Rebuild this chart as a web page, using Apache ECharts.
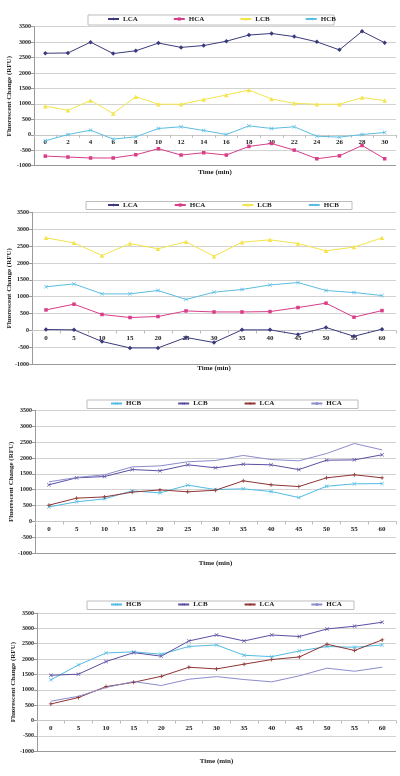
<!DOCTYPE html>
<html>
<head>
<meta charset="utf-8">
<script src="https://cdn.jsdelivr.net/npm/echarts@6/dist/echarts.min.js"></script>
<style>
html,body{margin:0;padding:0;background:#fff;}
#c{width:400px;height:776px;}
</style>
</head>
<body>
<div id="c"></div>
<script>
// ---------- data ----------
const timeCats30 = ['0','2','4','6','8','10','12','14','16','18','20','22','24','26','28','30'];
const timeCats60 = ['0','5','10','15','20','25','30','35','40','45','50','55','60'];

// Panel 1
const p1LCA = [2640, 2650, 3000, 2630, 2720, 2970, 2830, 2890, 3030, 3230, 3280, 3180, 3010, 2750, 3350, 2980];
const p1HCA = [-690, -720, -750, -750, -645, -450, -655, -580, -655, -375, -280, -495, -775, -680, -345, -775];
const p1LCB = [925, 795, 1110, 690, 1235, 990, 990, 1140, 1290, 1450, 1160, 1020, 990, 990, 1205, 1110];
const p1HCB = [-195, 10, 150, -140, -65, 205, 260, 140, 10, 290, 205, 260, -45, -75, 10, 75];

// Panel 2
const p2LCA = [30, 20, -325, -515, -515, -205, -355, 20, 20, -120, 90, -170, 40];
const p2HCA = [610, 780, 475, 385, 415, 580, 550, 550, 560, 680, 810, 395, 590];
const p2LCB = [2745, 2595, 2220, 2575, 2420, 2625, 2200, 2615, 2685, 2575, 2360, 2470, 2745];
const p2HCB = [1295, 1380, 1085, 1085, 1185, 920, 1135, 1215, 1350, 1420, 1185, 1125, 1035];

// Panel 3
const p3HCB = [460, 620, 715, 965, 900, 1145, 1005, 1030, 945, 755, 1110, 1185, 1195];
const p3LCB = [1155, 1375, 1415, 1635, 1595, 1785, 1690, 1805, 1785, 1635, 1930, 1940, 2100];
const p3LCA = [515, 735, 775, 925, 995, 935, 985, 1280, 1155, 1100, 1375, 1470, 1375];
const p3HCA = [1250, 1385, 1470, 1720, 1750, 1880, 1920, 2080, 1950, 1910, 2140, 2455, 2255];

// Panel 4
const p4HCB = [1325, 1810, 2200, 2235, 2160, 2410, 2460, 2125, 2080, 2265, 2410, 2385, 2460];
const p4LCB = [1475, 1510, 1920, 2210, 2095, 2590, 2785, 2590, 2785, 2735, 2980, 3070, 3200];
const p4LCA = [540, 750, 1105, 1245, 1440, 1735, 1680, 1835, 1985, 2070, 2485, 2280, 2625];
const p4HCA = [630, 790, 1075, 1270, 1140, 1345, 1430, 1335, 1260, 1455, 1705, 1605, 1735];

const yMin = -1000, yMax = 3500, yStep = 500;
const yTitle = 'Fluorescent Change (RFU)';
const xTitle = 'Time (min)';
const legend12 = ['LCA', 'HCA', 'LCB', 'HCB'];
const legend34 = ['HCB', 'LCB', 'LCA', 'HCA'];

// ---------- styles ----------
const FONT = '"Liberation Serif", "Times New Roman", serif';
const SYM = {
  diamond: 'diamond',
  square: 'rect',
  triangle: 'triangle',
  cross: 'path://M0,1L1,0L5,4L9,0L10,1L6,5L10,9L9,10L5,6L1,10L0,9L4,5Z',
  plus: 'path://M4,0H6V4H10V6H6V10H4V6H0V4H4Z',
  none: 'none'
};
const STY = {
  p12: {
    LCA: {c: '#3b3b7c', s: 'diamond', z: 4.5},
    HCA: {c: '#d83d88', s: 'square', z: 3.5},
    LCB: {c: '#f3e44c', s: 'triangle', z: 4.5},
    HCB: {c: '#5bbde1', s: 'cross', z: 4}
  },
  p34: {
    HCB: {c: '#52bbe3', s: 'cross', z: 4},
    LCB: {c: '#5a4fa2', s: 'cross', z: 4},
    LCA: {c: '#8e3535', s: 'plus', z: 4},
    HCA: {c: '#8c8ccc', s: 'none', z: 0}
  }
};

const panels = [
  {cats: timeCats30, legend: legend12, sty: STY.p12, data: {LCA: p1LCA, HCA: p1HCA, LCB: p1LCB, HCB: p1HCB},
   grid: {left: 34, width: 362, top: 26.7, height: 139}, xGap: 34, yGap: 21,
   leg: {left: 107, top: 15.5, gap: 35}, box: [88, 15, 246, 10]},
  {cats: timeCats60, legend: legend12, sty: STY.p12, data: {LCA: p2LCA, HCA: p2HCA, LCB: p2LCB, HCB: p2HCB},
   grid: {left: 32, width: 364, top: 212.3, height: 152}, xGap: 34, yGap: 19,
   leg: {left: 107, top: 201.5, gap: 36}, box: [86, 201.5, 266, 8]},
  {cats: timeCats60, legend: legend34, sty: STY.p34, data: {HCB: p3HCB, LCB: p3LCB, LCA: p3LCA, HCA: p3HCA},
   grid: {left: 35, width: 361, top: 410.3, height: 143}, xGap: 38, yGap: 20,
   leg: {left: 110, top: 400, gap: 36}, box: [87, 400, 271, 8.5]},
  {cats: timeCats60, legend: legend34, sty: STY.p34, data: {HCB: p4HCB, LCB: p4LCB, LCA: p4LCA, HCA: p4HCA},
   grid: {left: 37, width: 359, top: 613, height: 138.3}, xGap: 37, yGap: 20,
   leg: {left: 110, top: 601, gap: 36}, box: [87, 601, 267, 8.5]}
];

const grid = [], xAxis = [], yAxis = [], series = [], legend = [], graphic = [];

panels.forEach((p, i) => {
  grid.push(Object.assign({outerBoundsMode: 'none', containLabel: false}, p.grid));
  // shift the category axis up from the grid bottom to where value 0 sits
  const zeroOffset = -p.grid.height * (0 - yMin) / (yMax - yMin);
  xAxis.push({
    type: 'category', gridIndex: i, data: p.cats, boundaryGap: true,
    position: 'bottom', offset: zeroOffset,
    axisLine: {show: true, onZero: false, lineStyle: {color: '#c8c8c8', width: 1}},
    axisTick: {show: true, length: 3, interval: 0, lineStyle: {color: '#bdbdbd'}},
    axisLabel: {interval: 0, fontSize: 7, fontWeight: 'bold', fontFamily: FONT, color: '#222', margin: 4},
    name: xTitle, nameLocation: 'middle', nameGap: p.xGap, nameMoveOverlap: false,
    nameTextStyle: {fontSize: 7, fontWeight: 'bold', fontFamily: FONT, color: '#222'}
  });
  yAxis.push({
    type: 'value', gridIndex: i, min: yMin, max: yMax, interval: yStep,
    axisLine: {show: true, lineStyle: {color: '#9a9a9a', width: 1}},
    axisTick: {show: true, length: 3, lineStyle: {color: '#9a9a9a'}},
    axisLabel: {fontSize: 6, fontWeight: 'bold', fontFamily: FONT, color: '#222', margin: 3,
                formatter: v => String(v)},
    splitLine: {show: true, lineStyle: {color: '#d2d2d2', width: 1}},
    name: yTitle, nameLocation: 'middle', nameRotate: 90, nameGap: p.yGap, nameMoveOverlap: false,
    nameTextStyle: {fontSize: 7, fontWeight: 'bold', fontFamily: FONT, color: '#222'}
  });
  const names = [];
  p.legend.forEach((k, j) => {
    const st = p.sty[k];
    const nm = 'p' + (i + 1) + '_' + k;
    names.push(nm);
    const s = {
      name: nm, type: 'line', xAxisIndex: i, yAxisIndex: i,
      data: p.data[k], symbol: SYM[st.s], symbolSize: st.z, showSymbol: st.s !== 'none',
      lineStyle: {color: st.c, width: 1}, itemStyle: {color: st.c},
      animation: false
    };
    if (j === 0) {
      s.markLine = {
        silent: true, symbol: 'none', label: {show: false},
        lineStyle: {color: '#999', type: 'solid', width: 1},
        data: [{yAxis: yMin}]
      };
    }
    series.push(s);
  });
  legend.push({
    data: names, left: p.leg.left, top: p.leg.top, itemGap: p.leg.gap,
    itemWidth: 11, itemHeight: 4, padding: 0, selectedMode: false,
    formatter: n => n.split('_')[1],
    textStyle: {fontSize: 7, fontWeight: 'bold', fontFamily: FONT, color: '#222', padding: [0, 0, 0, -1]}
  });
  graphic.push({
    type: 'rect', shape: {x: p.box[0], y: p.box[1], width: p.box[2], height: p.box[3]},
    style: {fill: null, stroke: '#bdbdbd', lineWidth: 1}, silent: true, z: -1
  });
});

const chart = echarts.init(document.getElementById('c'), null, {renderer: 'canvas'});
chart.setOption({
  backgroundColor: '#fff', animation: false,
  grid, xAxis, yAxis, series, legend, graphic
});
</script>
</body>
</html>
